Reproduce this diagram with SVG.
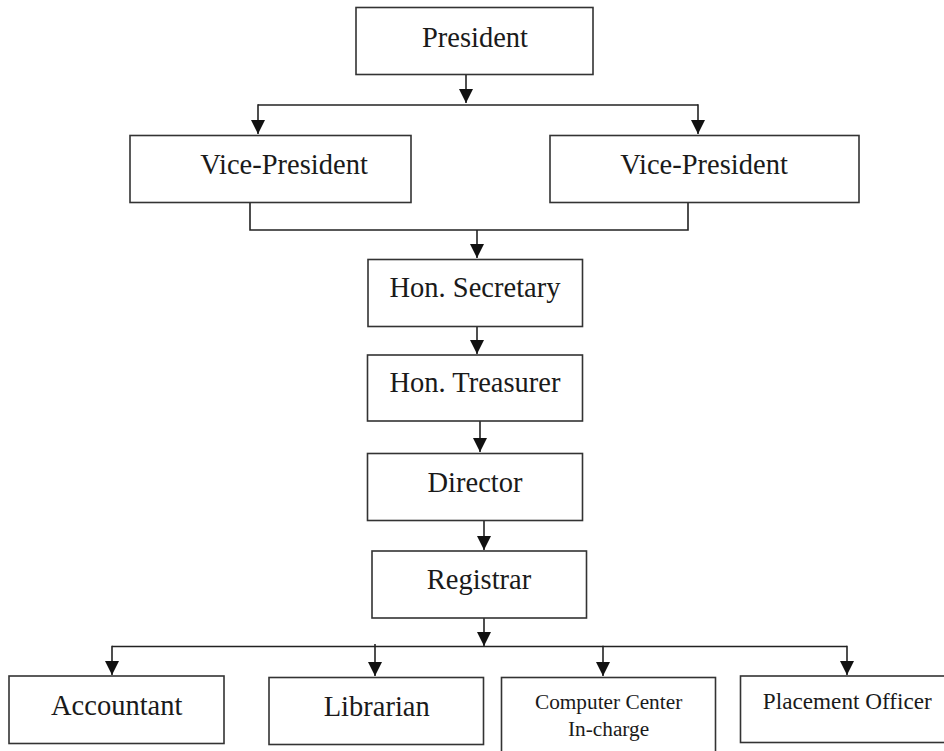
<svg xmlns="http://www.w3.org/2000/svg" width="944" height="751" viewBox="0 0 944 751">
<style>
.box{fill:#fff;stroke:#333;stroke-width:1.6}
.t{font-family:"Liberation Serif","Times New Roman",serif;font-size:28.5px;fill:#1a1a1a;text-anchor:middle}
.ts{font-family:"Liberation Serif","Times New Roman",serif;font-size:21.3px;fill:#1a1a1a;text-anchor:middle}
.tp{font-family:"Liberation Serif","Times New Roman",serif;font-size:23.2px;fill:#1a1a1a;text-anchor:middle}
.c{fill:none;stroke:#222;stroke-width:1.6}
.a{fill:none;stroke:#222;stroke-width:1.6;marker-end:url(#ah)}
</style>
<defs>
<marker id="ah" markerUnits="userSpaceOnUse" markerWidth="14" markerHeight="14" viewBox="0 0 14 14" refX="14" refY="7" orient="auto">
<path d="M0,0 L14,7 L0,14 Z" fill="#111"/>
</marker>
</defs>
<g id="connectors">
<line class="a" x1="466" y1="74" x2="466" y2="103"/>
<line class="c" x1="258" y1="105" x2="698" y2="105"/>
<line class="a" x1="258" y1="104.2" x2="258" y2="134"/>
<line class="a" x1="698" y1="104.2" x2="698" y2="134"/>
<polyline class="c" points="250,203 250,230 688,230 688,203"/>
<line class="a" x1="477" y1="230" x2="477" y2="258"/>
<line class="a" x1="477" y1="326" x2="477" y2="354"/>
<line class="a" x1="480" y1="421" x2="480" y2="452"/>
<line class="a" x1="484" y1="520" x2="484" y2="550"/>
<line class="a" x1="484" y1="618" x2="484" y2="646"/>
<line class="c" x1="112" y1="646.5" x2="847" y2="646.5"/>
<line class="a" x1="112" y1="645.7" x2="112" y2="675"/>
<line class="a" x1="375" y1="644" x2="375" y2="676"/>
<line class="a" x1="603" y1="645.7" x2="603" y2="676"/>
<line class="a" x1="847" y1="645.7" x2="847" y2="675"/>
</g>
<g id="president">
<rect class="box" x="356" y="7.5" width="237" height="67"/>
<text class="t" x="475" y="46.5">President</text>
</g>
<g id="vp-left">
<rect class="box" x="130" y="135.5" width="281" height="67"/>
<text class="t" x="284" y="174">Vice-President</text>
</g>
<g id="vp-right">
<rect class="box" x="550" y="135.5" width="309" height="67"/>
<text class="t" x="704" y="174">Vice-President</text>
</g>
<g id="hon-secretary">
<rect class="box" x="368" y="259.5" width="214.5" height="67"/>
<text class="t" x="475" y="296.5">Hon. Secretary</text>
</g>
<g id="hon-treasurer">
<rect class="box" x="367.5" y="355" width="215" height="66"/>
<text class="t" x="475" y="392.3">Hon. Treasurer</text>
</g>
<g id="director">
<rect class="box" x="367.5" y="453.5" width="215" height="67"/>
<text class="t" x="475" y="491.5">Director</text>
</g>
<g id="registrar">
<rect class="box" x="372" y="551" width="214.5" height="67"/>
<text class="t" x="479" y="589.3">Registrar</text>
</g>
<g id="accountant">
<rect class="box" x="9" y="676" width="215" height="67.5"/>
<text class="t" x="116.7" y="715">Accountant</text>
</g>
<g id="librarian">
<rect class="box" x="269" y="677.5" width="214.5" height="67"/>
<text class="t" x="376.7" y="716">Librarian</text>
</g>
<g id="computer-center">
<rect class="box" x="501.5" y="677.5" width="214" height="80"/>
<text class="ts" x="608.6" y="709.3">Computer Center</text>
<text class="ts" x="608.6" y="736">In-charge</text>
</g>
<g id="placement-officer">
<rect class="box" x="740.5" y="676" width="214" height="66.5"/>
<text class="tp" x="847.3" y="709.3">Placement Officer</text>
</g>
</svg>
